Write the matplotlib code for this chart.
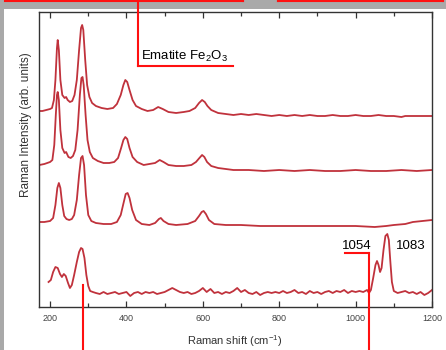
import matplotlib
matplotlib.use("Agg")
import matplotlib.pyplot as plt
from matplotlib.lines import Line2D

plt.rcParams['font.family'] = ['Liberation Sans', 'DejaVu Sans']
plt.rcParams['mathtext.default'] = 'regular'

# spectra (arb. units, already stacked)
x_top = [172, 180, 190, 200, 205, 210, 214, 218, 220, 223, 227, 232, 238, 242, 246, 252, 258,
         264, 270, 276, 281, 284, 287, 292, 297, 303, 310, 320, 335, 350, 365, 375, 385, 392,
         397, 402, 408, 416, 425, 440, 455, 470, 483, 495, 510, 530, 550, 565, 580, 590, 598,
         605, 612, 622, 640, 660, 680, 700, 720, 740, 760, 780, 800, 820, 840, 860, 880, 900,
         920, 940, 960, 980, 1000, 1020, 1040, 1060, 1080, 1100, 1120, 1130, 1150, 1170, 1200]
y_top = [196, 196, 197, 198, 199, 207, 227, 259, 267, 257, 227, 212, 209, 210, 207, 205, 206,
         212, 227, 257, 279, 282, 277, 247, 222, 210, 204, 201, 199, 198, 199, 203, 212, 222,
         227, 225, 217, 207, 201, 198, 196, 197, 200, 198, 195, 194, 195, 196, 199, 204, 207,
         205, 201, 197, 194, 193, 192, 193, 192, 193, 192, 191, 192, 191, 192, 191, 192, 191,
         191, 192, 191, 191, 192, 191, 191, 192, 191, 191, 190, 191, 191, 191, 191]

x_2 = [172, 185, 200, 206, 211, 215, 218, 220, 223, 227, 232, 238, 242, 248, 254, 260, 266,
       272, 278, 282, 285, 288, 293, 298, 304, 312, 325, 340, 355, 368, 378, 386, 392, 397,
       402, 408, 416, 428, 445, 460, 475, 487, 497, 510, 530, 550, 570, 582, 591, 598, 604,
       611, 622, 640, 660, 680, 720, 760, 800, 840, 880, 920, 960, 1000, 1040, 1080, 1120,
       1160, 1200]
y_2 = [142, 143, 145, 147, 162, 192, 212, 215, 207, 177, 159, 154, 155, 150, 149, 151, 157,
       177, 212, 229, 230, 222, 192, 167, 155, 149, 146, 144, 144, 145, 149, 159, 167, 170,
       168, 159, 150, 145, 142, 143, 144, 147, 145, 142, 141, 141, 142, 145, 149, 152, 150,
       145, 141, 139, 138, 137, 137, 136, 137, 136, 137, 136, 136, 137, 136, 136, 137,
       136, 137]

x_3 = [172, 185, 200, 208, 214, 219, 223, 227, 232, 237, 243, 250, 257, 263, 270, 276, 281,
       285, 289, 294, 300, 308, 320, 340, 360, 375, 385, 393, 398, 403, 408, 415, 425, 440,
       460, 475, 485, 490, 497, 510, 530, 560, 580, 590, 597, 602, 608, 616, 630, 660, 700,
       750, 800, 850, 900, 950, 1000, 1050, 1080, 1100, 1130, 1150, 1175, 1200]
y_3 = [85, 85, 86, 89, 102, 119, 124, 119, 102, 91, 88, 87, 88, 92, 107, 132, 149,
       151, 142, 112, 92, 86, 84, 83, 83, 85, 92, 105, 113, 114, 109, 97, 87, 83,
       82, 84, 88, 89, 86, 83, 82, 83, 86, 91, 95, 96, 93, 87, 83, 82, 82,
       81, 81, 81, 81, 81, 81, 80, 81, 82, 83, 85, 86, 87]

x_bot = [196, 202, 208, 214, 220, 226, 231, 236, 241, 247, 252, 257, 263, 270, 276, 281, 285,
         290, 295, 300, 305, 312, 320, 330, 340, 350, 360, 370, 380, 390, 400, 410, 420, 430,
         440, 450, 460, 470, 480, 490, 500, 510, 520, 530, 540, 550, 560, 570, 580, 590, 600,
         610, 620, 630, 640, 650, 660, 670, 680, 690, 700, 710, 720, 730, 740, 750, 760, 770,
         780, 790, 800, 810, 820, 830, 840, 850, 860, 870, 880, 890, 900, 910, 920, 930, 940,
         950, 960, 970, 980, 990, 1000, 1010, 1020, 1030, 1035, 1040, 1046, 1052, 1056, 1060,
         1064, 1068, 1073, 1078, 1083, 1087, 1091, 1095, 1100, 1110, 1120, 1130, 1140, 1150,
         1160, 1170, 1180, 1190, 1200]
y_bot = [25, 27, 35, 40, 39, 33, 30, 33, 31, 24, 19, 22, 32, 45, 55, 59, 58,
         49, 32, 21, 16, 15, 14, 13, 15, 13, 14, 15, 13, 14, 15, 11, 14, 15,
         13, 15, 14, 15, 13, 14, 15, 17, 19, 17, 15, 14, 15, 13, 14, 16, 19,
         15, 18, 14, 15, 13, 15, 14, 16, 19, 15, 17, 14, 13, 15, 12, 14, 15,
         14, 15, 14, 16, 14, 15, 17, 14, 15, 13, 16, 14, 15, 13, 15, 16, 14,
         16, 15, 17, 14, 16, 15, 16, 15, 17, 14, 17, 29, 42, 46, 42,
         35, 39, 57, 71, 73, 67, 45, 25, 16, 14, 15, 16, 14, 15,
         13, 15, 12, 14, 17]

xticks = [200, 400, 600, 800, 1000, 1200]

W, H = 446, 350
fig = plt.figure(figsize=(W / 100, H / 100), dpi=100)
fig.patch.set_facecolor('white')

def fx(px):
    return px / W

def fy(py):
    return 1 - py / H

# grey frame of the screenshot
fig.add_artist(plt.Rectangle((0, fy(8.5)), 1, 1 - fy(8.5), transform=fig.transFigure,
                             facecolor='#a9a9a9', edgecolor='none', zorder=0))
fig.add_artist(plt.Rectangle((0, 0), fx(3.5), 1, transform=fig.transFigure,
                             facecolor='#a9a9a9', edgecolor='none', zorder=0))

ax = fig.add_axes([fx(39), 1 - 307 / H, (432 - 39) / W, (307 - 12) / H])
line_col = '#c0323c'
for xs, ys in [(x_top, y_top), (x_2, y_2), (x_3, y_3), (x_bot, y_bot)]:
    ax.plot(xs, ys, color=line_col, lw=1.3)

ax.set_xlim(171, 1200)
ax.set_ylim(0, 295)
ax.set_yticks([])
ax.set_xticks(xticks)
ax.set_xticks(range(300, 1200, 200), minor=True)
ax.tick_params(axis='x', which='both', direction='in', top=True, color='#333333',
               labelsize=6.5, labelcolor='#444444', pad=5)
ax.tick_params(axis='x', which='major', length=4, width=0.9)
ax.tick_params(axis='x', which='minor', length=3, width=0.9)
for lab in ax.get_xticklabels():
    lab.set_family(['Liberation Sans Narrow', 'Liberation Sans'])
for s in ax.spines.values():
    s.set_color('#333333')
    s.set_linewidth(1.0)

fig.text(fx(235), fy(341), 'Raman shift (cm$^{-1}$)', ha='center', va='center',
         fontsize=8, color='#333333')
fig.text(fx(26), fy(125), 'Raman Intensity (arb. units)', rotation=90, ha='center',
         va='center', fontsize=8.5, color='#333333')

fig.text(fx(141), fy(59.5), 'Ematite Fe$_2$O$_3$', ha='left', va='baseline', fontsize=9.5)
fig.text(fx(357), fy(249), '1054', ha='center', va='baseline', fontsize=9.5)
fig.text(fx(411), fy(249), '1083', ha='center', va='baseline', fontsize=9.5)

# red callout lines of the slide
red = '#ff1010'
segs = [
    ([5, 243], [1, 1]), ([243, 243], [0, 1]),
    ([278, 443], [1, 1]), ([278, 278], [0, 1]), ([443, 443], [0, 1]),
    ([137.5, 137.5], [0, 66]), ([137.5, 233], [66, 66]),
    ([82.5, 82.5], [285, 350]),
    ([369, 369], [253, 350]), ([345, 369], [253, 253]),
]
for xs, ys in segs:
    fig.add_artist(Line2D([fx(v) for v in xs], [fy(v) for v in ys],
                          transform=fig.transFigure, color=red, lw=1.5, zorder=10))

fig.savefig('out.png', dpi=100)
